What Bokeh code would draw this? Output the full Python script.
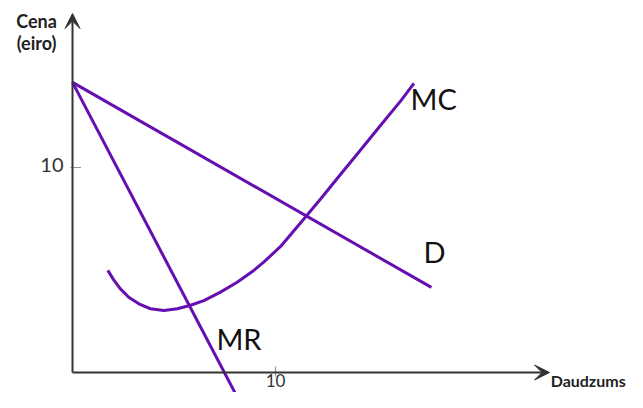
from bokeh.plotting import figure
from bokeh.models import Range1d, Arrow, VeeHead
from bokeh.core.properties import value
from bokeh.embed import file_html
from bokeh.resources import INLINE

# ---- data ----
d_x = [0.0, 17.68]
d_y = [14.15, 4.15]

mr_x = [0.0, 8.36]
mr_y = [14.15, -1.66]

mc_x = [1.74, 2.03, 2.36, 2.77, 3.27, 3.84, 4.50, 5.16, 5.78, 6.47, 7.29,
        8.11, 8.93, 9.42, 10.25, 11.23, 12.22, 13.20, 14.19, 15.17, 16.16, 16.82]
mc_y = [4.98, 4.52, 4.08, 3.67, 3.35, 3.11, 3.02, 3.11, 3.27, 3.51, 3.92,
        4.40, 4.98, 5.38, 6.15, 7.29, 8.46, 9.66, 10.85, 12.05, 13.24, 14.10]

x_ticks = [10]
y_ticks = [10]
tick_labels = ["10"]

x_axis_end = 23.5
y_axis_end = 17.51

curve_labels = ["MC", "D", "MR"]
curve_label_x = [16.65, 17.29, 7.09]
curve_label_y = [12.78, 5.32, 1.07]

FONT = "Lato"
PURPLE = "#650fb0"
AXIS = "#333333"

p = figure(width=627, height=392, output_backend="svg", toolbar_location=None,
           x_range=Range1d(-72 / 20.3, 555 / 20.3),
           y_range=Range1d(-20 / 20.5, 372 / 20.5),
           min_border=0, outline_line_color=None)
p.xaxis.visible = False
p.yaxis.visible = False
p.grid.visible = False
p.background_fill_color = "white"
p.border_fill_color = "white"

# axes with arrow heads
p.add_layout(Arrow(x_start=0, y_start=0, x_end=0, y_end=y_axis_end,
                   line_color=AXIS, line_width=2,
                   end=VeeHead(size=15, fill_color=AXIS, line_color=AXIS, line_width=1)))
p.add_layout(Arrow(x_start=0, y_start=0, x_end=x_axis_end, y_end=0,
                   line_color=AXIS, line_width=2,
                   end=VeeHead(size=15, fill_color=AXIS, line_color=AXIS, line_width=1)))

# tick marks
p.segment(x0=[-0.1 for _ in y_ticks], x1=[0.42 for _ in y_ticks], y0=y_ticks, y1=y_ticks,
          line_color="#999999", line_width=1.2)
p.segment(x0=x_ticks, x1=x_ticks, y0=[0.29 for _ in x_ticks], y1=[-0.2 for _ in x_ticks],
          line_color="#999999", line_width=1.2)

# tick labels
p.text(x=[-0.44], y=[y - 0.29 for y in y_ticks], text=tick_labels,
       text_font=value(FONT), text_font_size="20px", text_color=AXIS,
       text_align="right", text_baseline="alphabetic", y_offset=-8)
p.text(x=x_ticks, y=[-0.90 for _ in x_ticks], text=tick_labels,
       text_font=value(FONT), text_font_size="17px", text_color=AXIS,
       text_align="center", text_baseline="alphabetic", y_offset=-10)

# axis titles
p.text(x=[-1.77, -1.77], y=[16.78, 15.71], text=["Cena", "(eiro)"],
       text_font=value(FONT), text_font_size="18px", text_font_style="bold",
       text_color="#222222", text_align="center", text_baseline="alphabetic",
       y_offset=-7.5)
p.text(x=[27.25], y=[-0.90], text=["Daudzums"],
       text_font=value(FONT), text_font_size="16px", text_font_style="bold",
       text_color="#222222", text_align="right", text_baseline="alphabetic",
       y_offset=-10)

# curves
p.line(d_x, d_y, line_color=PURPLE, line_width=3)
p.line(mr_x, mr_y, line_color=PURPLE, line_width=3)
p.line(mc_x, mc_y, line_color=PURPLE, line_width=3, line_join="round")

# curve labels
p.text(x=curve_label_x, y=curve_label_y, text=curve_labels,
       text_font=value(FONT), text_font_size="29px", text_color="#111111",
       text_align="left", text_baseline="alphabetic", y_offset=-12)

open("out.html", "w").write(file_html(p, INLINE))
